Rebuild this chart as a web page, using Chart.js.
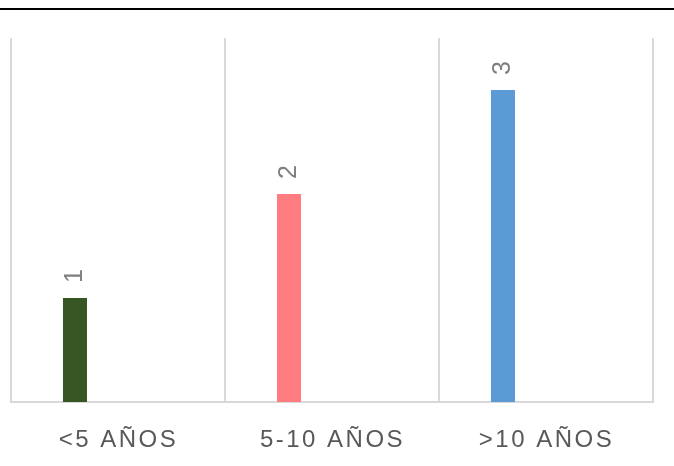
<!DOCTYPE html>
<html>
<head>
<meta charset="utf-8">
<script src="https://cdn.jsdelivr.net/npm/chart.js@4.4.0/dist/chart.umd.min.js"></script>
<style>
    html, body { margin: 0; padding: 0; background: #ffffff; }
    #wrap { position: relative; width: 674px; height: 466px; }
    #topLine { position: absolute; left: 0; top: 8px; width: 674px; height: 2px; background: #000; }
</style>
</head>
<body>
<div id="wrap">
    <div id="topLine"></div>
    <canvas id="chart" width="674" height="466"></canvas>
</div>
<script>
const categories = ["<5 AÑOS", "5-10 AÑOS", ">10 AÑOS"];
const values = [1, 2, 3];
const barColors = ["#375623", "#FF7C80", "#5B9BD5"];
const yMax = 3.5;

// rotated value labels above each bar
const valueLabels = {
    id: "valueLabels",
    afterDatasetsDraw(chart) {
        const ctx = chart.ctx;
        const meta = chart.getDatasetMeta(0);
        ctx.save();
        ctx.fillStyle = "#7f7f7f";
        ctx.font = "25px 'Liberation Sans', Arial, sans-serif";
        ctx.textAlign = "center";
        ctx.textBaseline = "middle";
        meta.data.forEach((bar, i) => {
            ctx.save();
            ctx.translate(bar.x, bar.y - 22);
            ctx.rotate(-Math.PI / 2);
            ctx.fillText(String(values[i]), 0, 0);
            ctx.restore();
        });
        ctx.restore();
    }
};

// category labels with letter spacing
const catLabels = {
    id: "catLabels",
    afterDraw(chart) {
        const ctx = chart.ctx;
        const xs = chart.scales.x;
        ctx.save();
        ctx.fillStyle = "#595959";
        ctx.font = "24px 'Liberation Sans', Arial, sans-serif";
        ctx.letterSpacing = "2.5px";
        ctx.textAlign = "center";
        ctx.textBaseline = "middle";
        categories.forEach((c, i) => {
            ctx.fillText(c, xs.getPixelForTick(i) + 0.5, chart.chartArea.bottom + 38);
        });
        ctx.restore();
    }
};

new Chart(document.getElementById("chart"), {
    type: "bar",
    data: {
        labels: categories,
        datasets: [
            {data: values, backgroundColor: barColors, barPercentage: 0.558, categoryPercentage: 0.603},
            {data: [], barPercentage: 0.558, categoryPercentage: 0.603},
            {data: [], barPercentage: 0.558, categoryPercentage: 0.603}
        ]
    },
    options: {
        responsive: false,
        animation: false,
        layout: {padding: {left: 11, right: 21, top: 38, bottom: 64}},
        plugins: {legend: {display: false}, tooltip: {enabled: false}},
        scales: {
            x: {
                ticks: {display: false},
                grid: {color: "#d9d9d9", lineWidth: 2, drawTicks: false, offset: true},
                border: {color: "#d9d9d9", width: 2}
            },
            y: {display: false, min: 0, max: yMax}
        }
    },
    plugins: [valueLabels, catLabels]
});
</script>
</body>
</html>
